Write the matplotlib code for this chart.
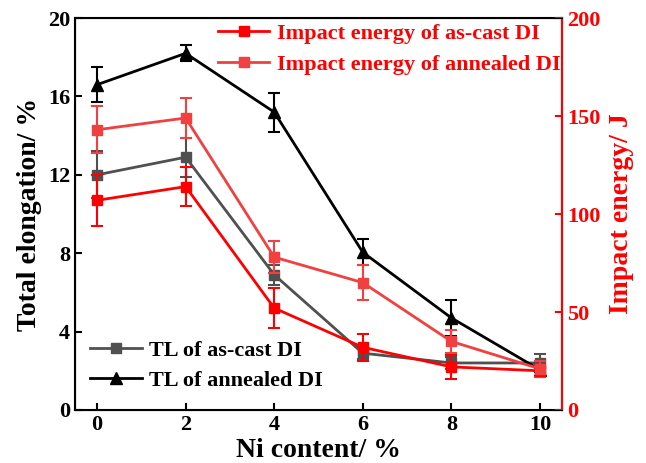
import matplotlib
matplotlib.use('Agg')
import matplotlib.pyplot as plt
from matplotlib.lines import Line2D

plt.rcParams['font.family'] = 'Liberation Serif'
plt.rcParams['font.weight'] = 'bold'

ni = [0, 2, 4, 6, 8, 10]

tl_cast = [12.0, 12.9, 6.9, 2.9, 2.4, 2.4]
tl_cast_err = [1.2, 1.0, 0.5, 0.3, 0.3, 0.45]
tl_anneal = [16.6, 18.2, 15.2, 8.05, 4.7, 2.05]
tl_anneal_err = [0.9, 0.4, 1.0, 0.65, 0.9, 0.1]

ie_cast = [107, 114, 52, 32, 22, 20]
ie_cast_err = [13, 10, 10, 7, 6, 3]
ie_anneal = [143, 149, 78, 65, 35, 21]
ie_anneal_err = [12, 10, 8, 9, 6, 4]

c_tl_cast = '#505050'
c_tl_anneal = 'black'
c_ie_cast = '#ff0000'
c_ie_anneal = '#f04040'

fig = plt.figure(figsize=(6.46, 4.63), dpi=100)
ax = fig.add_axes([0.116, 0.1145, 0.754, 0.8465])

ax.errorbar(ni, tl_cast, yerr=tl_cast_err, color=c_tl_cast, marker='s', markersize=7,
            linewidth=2, capsize=4, capthick=1.5, elinewidth=1.5)
ax.errorbar(ni, tl_anneal, yerr=tl_anneal_err, color=c_tl_anneal, marker='^', markersize=8,
            linewidth=2, capsize=4, capthick=1.5, elinewidth=1.5)
ax.set_xlim(-0.5, 10.5)
ax.set_ylim(0, 20)
ax.set_xticks(ni)
ax.set_yticks([0, 4, 8, 12, 16, 20])
ax.tick_params(direction='in', length=5, width=1.5, labelsize=16)
ax.set_xlabel('Ni content/ %', fontsize=20, fontweight='bold', labelpad=2)
ax.set_ylabel('Total elongation/ %', fontsize=20, fontweight='bold', labelpad=4)
for s in ax.spines.values():
    s.set_linewidth(1.5)

ax2 = ax.twinx()
ax2.errorbar(ni, ie_cast, yerr=ie_cast_err, color=c_ie_cast, marker='s', markersize=7,
             linewidth=2, capsize=4, capthick=1.5, elinewidth=1.5)
ax2.errorbar(ni, ie_anneal, yerr=ie_anneal_err, color=c_ie_anneal, marker='s', markersize=7,
             linewidth=2, capsize=4, capthick=1.5, elinewidth=1.5)
ax2.set_ylim(0, 200)
ax2.set_yticks([0, 50, 100, 150, 200])
ax2.tick_params(direction='in', length=5, width=1.5, labelsize=16, colors='red')
ax2.spines['right'].set_color('red')
ax2.spines['right'].set_linewidth(1.5)
ax2.set_ylabel('Impact energy/ J', fontsize=20, fontweight='bold', color='red', labelpad=6)

tl_handles = [
    Line2D([], [], color=c_tl_cast, marker='s', markersize=7, linewidth=2, label='TL of as-cast DI'),
    Line2D([], [], color=c_tl_anneal, marker='^', markersize=8, linewidth=2, label='TL of annealed DI'),
]
ie_handles = [
    Line2D([], [], color=c_ie_cast, marker='s', markersize=7, linewidth=2, label='Impact energy of as-cast DI'),
    Line2D([], [], color=c_ie_anneal, marker='s', markersize=7, linewidth=2, label='Impact energy of annealed DI'),
]

ax.legend(handles=tl_handles, loc='lower left', bbox_to_anchor=(0.0, 0.01), frameon=False,
          fontsize=16, handlelength=2.3, handletextpad=0.35, borderaxespad=0.3, labelspacing=0.4)
leg2 = ax2.legend(handles=ie_handles, loc='upper right', bbox_to_anchor=(1.025, 1.02), frameon=False,
                  fontsize=16, handlelength=2.3, handletextpad=0.35, borderaxespad=0.2,
                  labelspacing=0.45)
for t in leg2.get_texts():
    t.set_color('red')

fig.savefig('out.png', dpi=100)
